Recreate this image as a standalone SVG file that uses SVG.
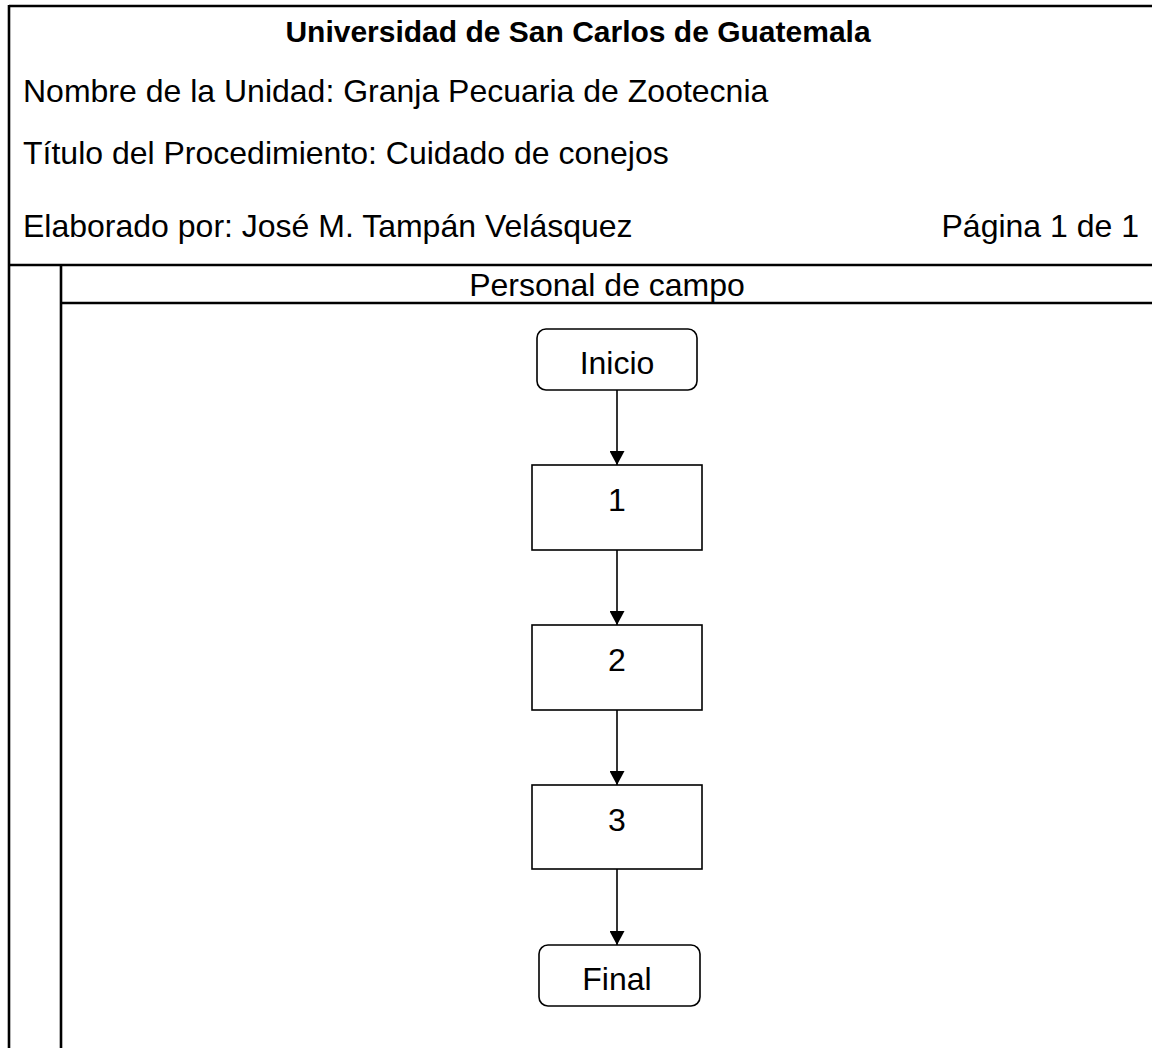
<svg xmlns="http://www.w3.org/2000/svg" width="1152" height="1048" viewBox="0 0 1152 1048">
<style>
.frame{stroke:#000;stroke-width:2.6;fill:none}
.box{stroke:#000;stroke-width:1.6;fill:#fff}
.conn{stroke:#000;stroke-width:1.6;fill:none}
text{font-family:"Liberation Sans",Arial,sans-serif;fill:#000}
.hdr{font-size:32px}
.ttl{font-size:30px;font-weight:bold}
.lbl{font-size:32px;text-anchor:middle}
</style>
<defs>
<marker id="arr" markerWidth="14" markerHeight="15" refX="14" refY="7.5" orient="auto" markerUnits="userSpaceOnUse" viewBox="0 0 14 15">
<path d="M0,0 L14,7.5 L0,15 Z" fill="#000"/>
</marker>
</defs>
<rect width="1152" height="1048" fill="#fff"/>
<g id="frame">
<line class="frame" x1="9" y1="6" x2="1152" y2="6"/>
<line class="frame" x1="9" y1="5" x2="9" y2="1048"/>
<line class="frame" x1="9" y1="265" x2="1152" y2="265"/>
<line class="frame" x1="61" y1="265" x2="61" y2="1048"/>
<line class="frame" x1="61" y1="303" x2="1152" y2="303"/>
</g>
<g id="header">
<text class="ttl" x="578" y="42" text-anchor="middle">Universidad de San Carlos de Guatemala</text>
<text class="hdr" x="23" y="102">Nombre de la Unidad: Granja Pecuaria de Zootecnia</text>
<text class="hdr" x="23" y="164">Título del Procedimiento: Cuidado de conejos</text>
<text class="hdr" x="23" y="237">Elaborado por: José M. Tampán Velásquez</text>
<text class="hdr" x="1139" y="237" text-anchor="end">Página 1 de 1</text>
<text class="hdr" x="607" y="296" text-anchor="middle">Personal de campo</text>
</g>
<g id="connectors">
<line class="conn" x1="617" y1="390" x2="617" y2="465" marker-end="url(#arr)"/>
<line class="conn" x1="617" y1="550" x2="617" y2="625" marker-end="url(#arr)"/>
<line class="conn" x1="617" y1="710" x2="617" y2="785" marker-end="url(#arr)"/>
<line class="conn" x1="617" y1="869" x2="617" y2="945" marker-end="url(#arr)"/>
</g>
<g id="inicio">
<rect class="box" x="537" y="329" width="160" height="61" rx="9"/>
<text class="lbl" x="617" y="374">Inicio</text>
</g>
<g id="step1">
<rect class="box" x="532" y="465" width="170" height="85"/>
<text class="lbl" x="617" y="511">1</text>
</g>
<g id="step2">
<rect class="box" x="532" y="625" width="170" height="85"/>
<text class="lbl" x="617" y="671">2</text>
</g>
<g id="step3">
<rect class="box" x="532" y="785" width="170" height="84"/>
<text class="lbl" x="617" y="831">3</text>
</g>
<g id="final">
<rect class="box" x="539" y="945" width="161" height="61" rx="9"/>
<text class="lbl" x="617" y="990">Final</text>
</g>
</svg>
